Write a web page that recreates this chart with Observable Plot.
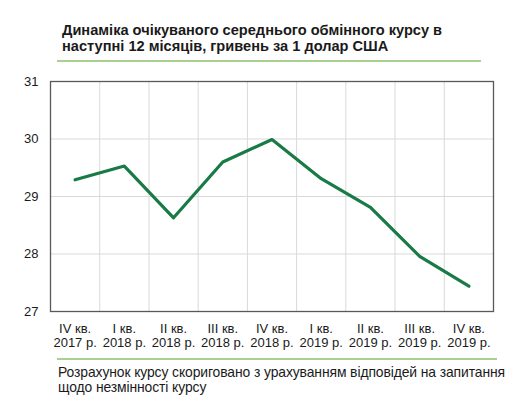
<!DOCTYPE html>
<html>
<head>
<meta charset="utf-8">
<script src="https://cdn.jsdelivr.net/npm/d3@7"></script>
<script src="https://cdn.jsdelivr.net/npm/@observablehq/plot@0.6"></script>
<style>
  body { margin: 0; background: #fff; }
  #wrap { position: relative; width: 529px; height: 408px; font-family: "Liberation Sans", Arial, sans-serif; color: #1a1a1a; }
  #title { position: absolute; left: 62px; top: 22px; font-weight: bold; font-size: 14.6px; line-height: 16px; white-space: nowrap; }
  .rule { position: absolute; height: 2px; background: #a9d08e; }
  #chart { position: absolute; left: 0; top: 66px; }
  #note { position: absolute; left: 58px; top: 365px; font-size: 13.9px; line-height: 15px; white-space: nowrap; letter-spacing: -0.1px; }
</style>
</head>
<body>
<div id="wrap">
  <div id="title">Динаміка очікуваного середнього обмінного курсу в<br>наступні 12 місяців, гривень за 1 долар США</div>
  <div class="rule" style="left:57px; top:60px; width:424px;"></div>
  <div id="chart"></div>
  <div class="rule" style="left:57px; top:358px; width:440px;"></div>
  <div id="note">Розрахунок курсу скориговано з урахуванням відповідей на запитання<br>щодо незмінності курсу</div>
</div>
<script>
// квартали та очікуваний курс
const quarters = ["IV кв.\n2017 р.", "I кв.\n2018 р.", "II кв.\n2018 р.", "III кв.\n2018 р.", "IV кв.\n2018 р.",
                  "I кв.\n2019 р.", "II кв.\n2019 р.", "III кв.\n2019 р.", "IV кв.\n2019 р."]
const rate = [29.29, 29.53, 28.63, 29.60, 29.99, 29.31, 28.81, 27.96, 27.44]
const yTicks = [27, 28, 29, 30, 31]

const data = quarters.map((q, i) => ({ i, q, v: rate[i] }))
const bounds = quarters.slice(1).map((q, i) => i + 0.5)

let chart = Plot.plot({
    width: 529,
    height: 286,
    marginTop: 15,
    marginBottom: 41,
    marginLeft: 50,
    marginRight: 36,
    style: { fontFamily: '"Liberation Sans", Arial, sans-serif', fontSize: "13px", color: "#1a1a1a" },
    x: { type: "linear", domain: [-0.5, quarters.length - 0.5] },
    y: { domain: [27, 31] },
    marks: [
        Plot.gridX(bounds, { stroke: "#d9d9d9", strokeOpacity: 1 }),
        Plot.gridY([28, 29, 30], { stroke: "#d9d9d9", strokeOpacity: 1 }),
        Plot.frame({ stroke: "#595959", strokeWidth: 1.3 }),
        Plot.axisY(yTicks, { tickSize: 0, tickPadding: 12, label: null, fontSize: 13, tickFormat: d => String(d) }),
        Plot.axisX(data.map(d => d.i), {
            tickSize: 0, tickPadding: 11, label: null, fontSize: 13, lineHeight: 1.1,
            tickFormat: i => quarters[i]
        }),
        Plot.line(data, { x: "i", y: "v", stroke: "#187a45", strokeWidth: 3.2 })
    ]
})

d3.select('#chart').append(() => chart)
</script>
</body>
</html>
